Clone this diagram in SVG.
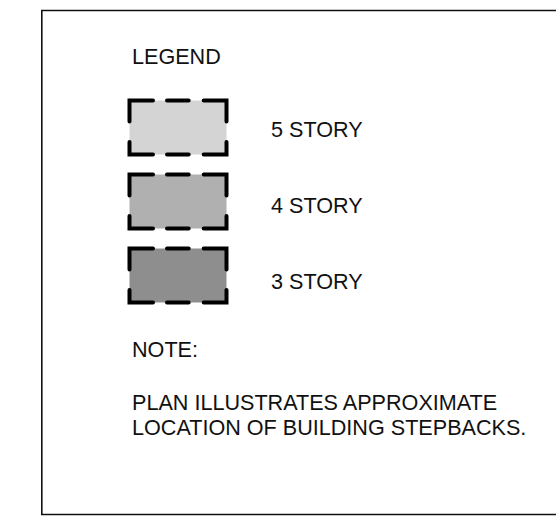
<svg xmlns="http://www.w3.org/2000/svg" width="556" height="518" viewBox="0 0 556 518">
  <style>
    .t { font-family: "Liberation Sans", Arial, sans-serif; font-size: 21.6px; fill: #111; }
    .frame { fill: none; stroke: #111; stroke-width: 1.6; }
    .dash { fill: none; stroke: #000; stroke-width: 4; stroke-linecap: round; stroke-linejoin: miter; }
  </style>
  <defs>
    <g id="dashbox">
      <path class="dash" d="M0,21 V0 H23.5 M37.5,0 H59.2 M74.2,0 H97 V21 M0,41.5 V54 H23.5 M37.5,54 H59.2 M74.2,54 H97 V41.5"/>
    </g>
  </defs>
  <rect width="556" height="518" fill="#fff"/>
  <g id="frame">
    <path class="frame" d="M560,10.5 H41.8 V514.5 H560"/>
  </g>
  <g id="legend-title">
    <text class="t" x="132" y="64">LEGEND</text>
  </g>
  <g id="story5">
    <rect x="129.5" y="100.5" width="97" height="54" fill="#d4d4d4"/>
    <use href="#dashbox" x="129.5" y="100.5"/>
    <text class="t" x="271" y="137">5 STORY</text>
  </g>
  <g id="story4">
    <rect x="129.5" y="174.5" width="97" height="54" fill="#b0b0b0"/>
    <use href="#dashbox" x="129.5" y="174.5"/>
    <text class="t" x="271" y="213">4 STORY</text>
  </g>
  <g id="story3">
    <rect x="129.5" y="248.5" width="97" height="54" fill="#8e8e8e"/>
    <use href="#dashbox" x="129.5" y="248.5"/>
    <text class="t" x="271" y="289">3 STORY</text>
  </g>
  <g id="note">
    <text class="t" x="132" y="357">NOTE:</text>
    <text class="t" x="132" y="410">PLAN ILLUSTRATES APPROXIMATE</text>
    <text class="t" x="132" y="435">LOCATION OF BUILDING STEPBACKS.</text>
  </g>
  <g id="connectors"/>
</svg>
